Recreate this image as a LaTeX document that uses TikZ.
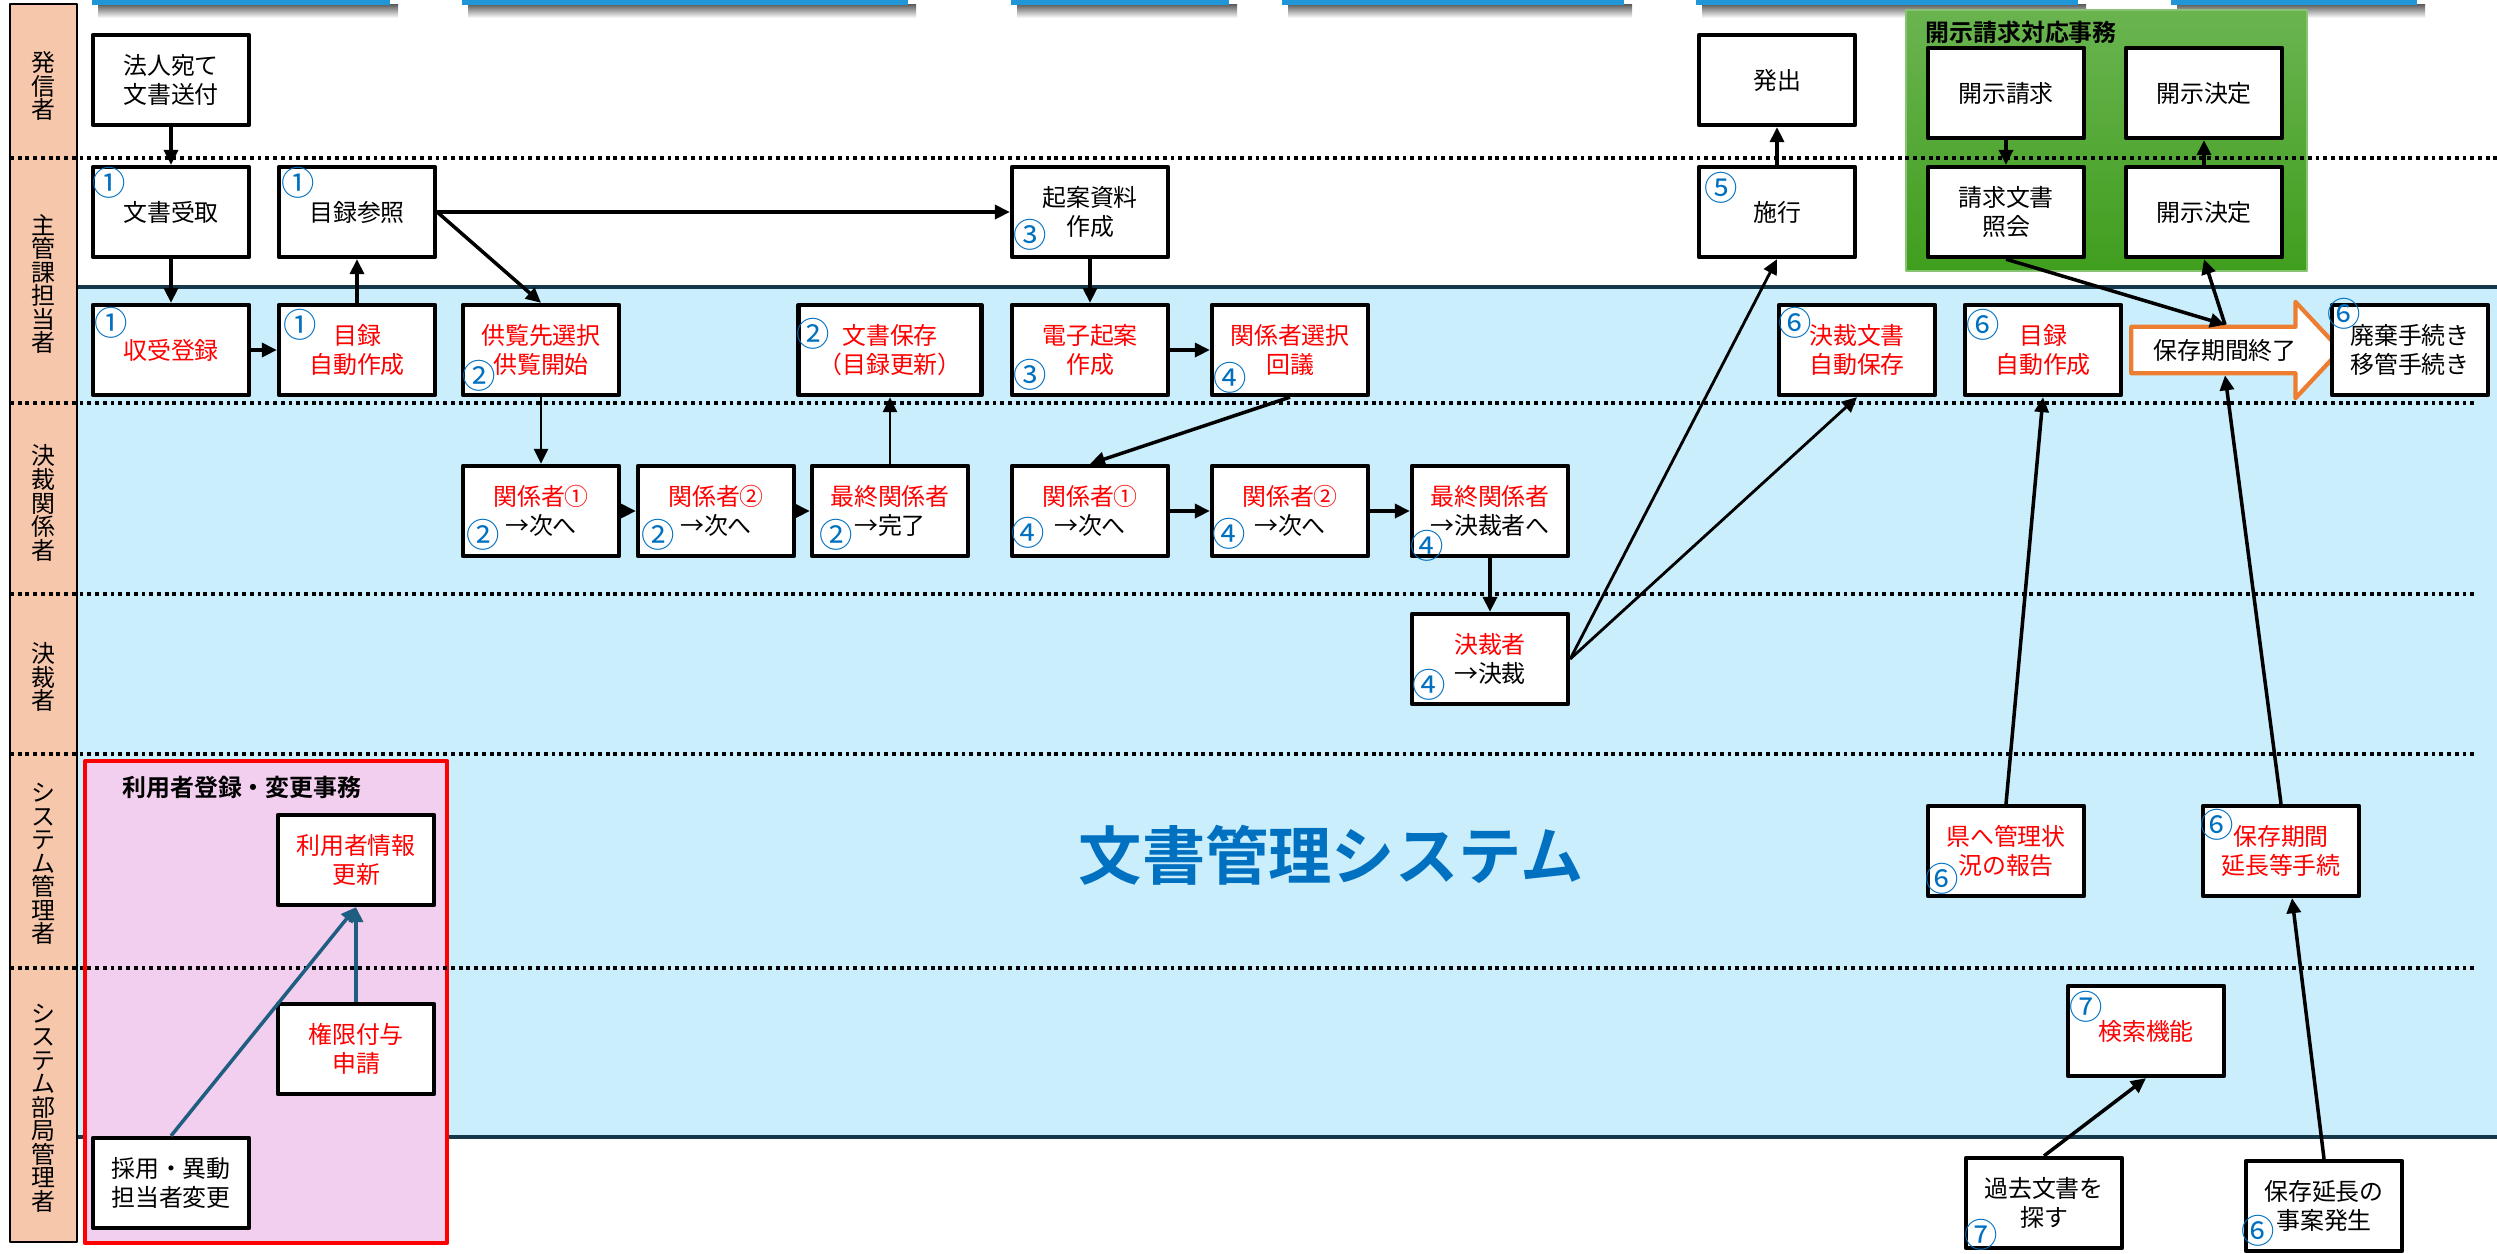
\documentclass[tikz,border=0pt]{standalone}
\usepackage{fontspec}
\setmainfont{Noto Sans CJK JP}[BoldFont={Noto Sans CJK JP Bold}]
\usetikzlibrary{arrows.meta,shapes.arrows}
\definecolor{peach}{RGB}{247,199,172}
\definecolor{sysblue}{RGB}{202,238,252}
\definecolor{numblue}{RGB}{0,112,192}
\definecolor{navyline}{RGB}{23,55,75}
\definecolor{greentop}{RGB}{106,180,80}
\definecolor{greenbot}{RGB}{64,158,30}
\definecolor{pinkbg}{RGB}{242,206,239}
\definecolor{arrowteal}{RGB}{31,94,128}
\definecolor{hosonorange}{RGB}{237,125,49}
\definecolor{barblue}{RGB}{30,150,215}
\newcommand\fsbox{\fontsize{6.8}{8.2}\selectfont}
\newcommand\fsnum{\fontsize{9.5}{9.5}\selectfont}
\newcommand\fslane{\fontsize{6.8}{6.7}\selectfont}
\begin{document}
\begin{tikzpicture}[x=0.01cm, y=-0.01cm, line join=round, font=\fsbox,
    box/.style={draw, line width=1.2pt, fill=white, minimum width=1.56cm, minimum height=0.9cm, align=center, inner sep=1pt},
    redbox/.style={box, text=red},
    num/.style={text=numblue, font=\fsnum, inner sep=0pt},
    flow/.style={-{Triangle[length=0.15cm,width=0.14cm]}, line width=1pt},
    thinflow/.style={flow, line width=0.8pt},
    laneline/.style={line width=0.9pt, dash pattern=on 1.1pt off 1.1pt},
    lanetext/.style={align=center, font=\fslane, inner sep=0pt}]
    \useasboundingbox (0,0) rectangle (2497,1253);
    \fill[white] (0,0) rectangle (2497,1253);
    % strips at the top edge
    \foreach \a/\b in {92/390,462/908,1011/1229,1282/1624,1696/2078,2171/2417}{
        \shade[top color=black!65, bottom color=white] (\a+6,4) rectangle (\b+8,18);
        \fill[barblue] (\a,0) rectangle (\b,5);
    }
    % system area and lane column
    \fill[sysblue] (77,287) rectangle (2497,1137);
    \draw[navyline, line width=1.1pt] (77,287) -- (2497,287) (77,1137) -- (2497,1137);
    \draw[fill=peach, line width=0.6pt] (10,4) rectangle (77,1242);
    % groups
    \shade[top color=greentop, bottom color=greenbot, draw=greentop!80!white] (1906,10) rectangle (2307,271);
    \node[font=\fsbox\bfseries, anchor=west] (kaijititle) at (1913,32) {開示請求対応事務};
    \draw[red, line width=1.2pt, fill=pinkbg] (85,761) rectangle (447,1243);
    \node[font=\fsbox\bfseries, anchor=west] (riyotitle) at (110,787) {利用者登録・変更事務};
    % lanes
    \draw[laneline] (10,158) -- (2497,158);
    \foreach \y in {403,594,754,968} \draw[laneline] (10,\y) -- (2475,\y);
    \node[lanetext] (l1) at (43,86) {発\\信\\者};
    \node[lanetext] (l2) at (43,284) {主\\管\\課\\担\\当\\者};
    \node[lanetext] (l3) at (43,503) {決\\裁\\関\\係\\者};
    \node[lanetext] (l4) at (43,677) {決\\裁\\者};
    \node[lanetext] (l5) at (43,864) {シ\\ス\\テ\\ム\\管\\理\\者};
    \node[lanetext] (l6) at (43,1108) {シ\\ス\\テ\\ム\\部\\局\\管\\理\\者};
    \node[text=numblue, font=\fontsize{18}{18}\selectfont\bfseries] (systitle) at (1331,855) {文書管理システム};
    % boxes
    \node[box] (hojin) at (171,80) {法人宛て\\文書送付};
    \node[box] (hasshutsu) at (1777,80) {発出};
    \node[box] (jutori) at (171,212) {文書受取};
    \node[box] (sansho) at (357,212) {目録参照};
    \node[box] (kian) at (1090,212) {起案資料\\作成};
    \node[box] (seko) at (1777,212) {施行};
    \node[box] (kaijiseikyu) at (2006,93) {開示請求};
    \node[box] (kaijikettei) at (2204,93) {開示決定};
    \node[box] (shokai) at (2006,212) {請求文書\\照会};
    \node[box] (kettei2) at (2204,212) {開示決定};
    \node[redbox] (shuju) at (171,350) {収受登録};
    \node[redbox] (mokuroku1) at (357,350) {目録\\自動作成};
    \node[redbox] (kyoran) at (541,350) {供覧先選択\\供覧開始};
    \node[redbox, minimum width=1.83cm] (hozon) at (890,350) {文書保存\\（目録更新）};
    \node[redbox] (denshi) at (1090,350) {電子起案\\作成};
    \node[redbox] (kaigi) at (1290,350) {関係者選択\\回議};
    \node[redbox] (jidohozon) at (1857,350) {決裁文書\\自動保存};
    \node[redbox] (mokuroku6) at (2043,350) {目録\\自動作成};
    \node[single arrow, draw=hosonorange, line width=1.2pt, fill=white, minimum height=2.09cm, minimum width=0.95cm,
        single arrow head extend=0.25cm, single arrow tip angle=94, inner sep=0.1cm] (hoson) at (2225,350) {保存期間終了};
    \node[box] (haiki) at (2410,350) {廃棄手続き\\移管手続き};
    \node[box] (kan1) at (541,511) {\textcolor{red}{関係者①}\\→次へ};
    \node[box] (kan2) at (716,511) {\textcolor{red}{関係者②}\\→次へ};
    \node[box] (saishu2) at (890,511) {\textcolor{red}{最終関係者}\\→完了};
    \node[box] (kan1b) at (1090,511) {\textcolor{red}{関係者①}\\→次へ};
    \node[box] (kan2b) at (1290,511) {\textcolor{red}{関係者②}\\→次へ};
    \node[box] (saishu4) at (1490,511) {\textcolor{red}{最終関係者}\\→決裁者へ};
    \node[box] (kessai) at (1490,659) {\textcolor{red}{決裁者}\\→決裁};
    \node[redbox] (riyosha) at (356,860) {利用者情報\\更新};
    \node[redbox] (kengen) at (356,1049) {権限付与\\申請};
    \node[box] (saiyo) at (171,1183) {採用・異動\\担当者変更};
    \node[redbox] (ken) at (2006,851) {県へ管理状\\況の報告};
    \node[redbox] (encho) at (2281,851) {保存期間\\延長等手続};
    \node[redbox] (kensaku) at (2146,1031) {検索機能};
    \node[box] (kako) at (2044,1203) {過去文書を\\探す};
    \node[box] (jian) at (2324,1206) {保存延長の\\事案発生};
    % step numbers
    \node[num] (c01) at (109,183) {①};
    \node[num] (c02) at (298,183) {①};
    \node[num] (c03) at (111,323) {①};
    \node[num] (c04) at (300,325) {①};
    \node[num] (c05) at (479,376) {②};
    \node[num] (c06) at (813,334) {②};
    \node[num] (c07) at (483,535) {②};
    \node[num] (c08) at (658,535) {②};
    \node[num] (c09) at (836,535) {②};
    \node[num] (c10) at (1030,235) {③};
    \node[num] (c11) at (1030,375) {③};
    \node[num] (c12) at (1230,378) {④};
    \node[num] (c13) at (1028,533) {④};
    \node[num] (c14) at (1229,534) {④};
    \node[num] (c15) at (1427,546) {④};
    \node[num] (c16) at (1429,685) {④};
    \node[num] (c17) at (1721,188) {⑤};
    \node[num] (c18) at (1795,323) {⑥};
    \node[num] (c19) at (1983,325) {⑥};
    \node[num] (c20) at (2344,314) {⑥};
    \node[num] (c21) at (1942,879) {⑥};
    \node[num] (c22) at (2217,825) {⑥};
    \node[num] (c23) at (2258,1231) {⑥};
    \node[num] (c24) at (2086,1007) {⑦};
    \node[num] (c25) at (1981,1235) {⑦};
    % connectors
    \draw[flow] (hojin) -- (jutori);
    \draw[flow] (jutori) -- (shuju);
    \draw[flow] (shuju) -- (mokuroku1);
    \draw[flow] (mokuroku1) -- (sansho);
    \draw[flow] (sansho) -- (kian);
    \draw[flow] (sansho.east) -- (kyoran.north);
    \draw[thinflow] (kyoran) -- (kan1);
    \draw[flow] (kan1) -- (kan2);
    \draw[flow] (kan2) -- (saishu2);
    \draw[thinflow] (saishu2) -- (hozon);
    \draw[flow] (kian) -- (denshi);
    \draw[flow] (denshi) -- (kaigi);
    \draw[flow] (kaigi.south) -- (kan1b.north);
    \draw[flow] (kan1b) -- (kan2b);
    \draw[flow] (kan2b) -- (saishu4);
    \draw[flow] (saishu4) -- (kessai);
    \draw[thinflow] (kessai.east) -- (seko.south);
    \draw[thinflow] (kessai.east) -- (jidohozon.south);
    \draw[flow] (seko) -- (hasshutsu);
    \draw[flow] (kaijiseikyu) -- (shokai);
    \draw[flow] (kettei2) -- (kaijikettei);
    \draw[flow] (shokai.south) -- (hoson.north);
    \draw[flow] (hoson.north) -- (kettei2.south);
    \draw[flow] (encho.north) -- (hoson.south);
    \draw[flow] (ken.north) -- (mokuroku6.south);
    \draw[flow] (kako.north) -- (kensaku.south);
    \draw[flow] (jian.north) -- ([shift={(11,0)}]encho.south);
    \draw[flow, arrowteal] (kengen) -- (riyosha);
    \draw[flow, arrowteal] (saiyo.north) -- (riyosha.south);
\end{tikzpicture}
\end{document}
